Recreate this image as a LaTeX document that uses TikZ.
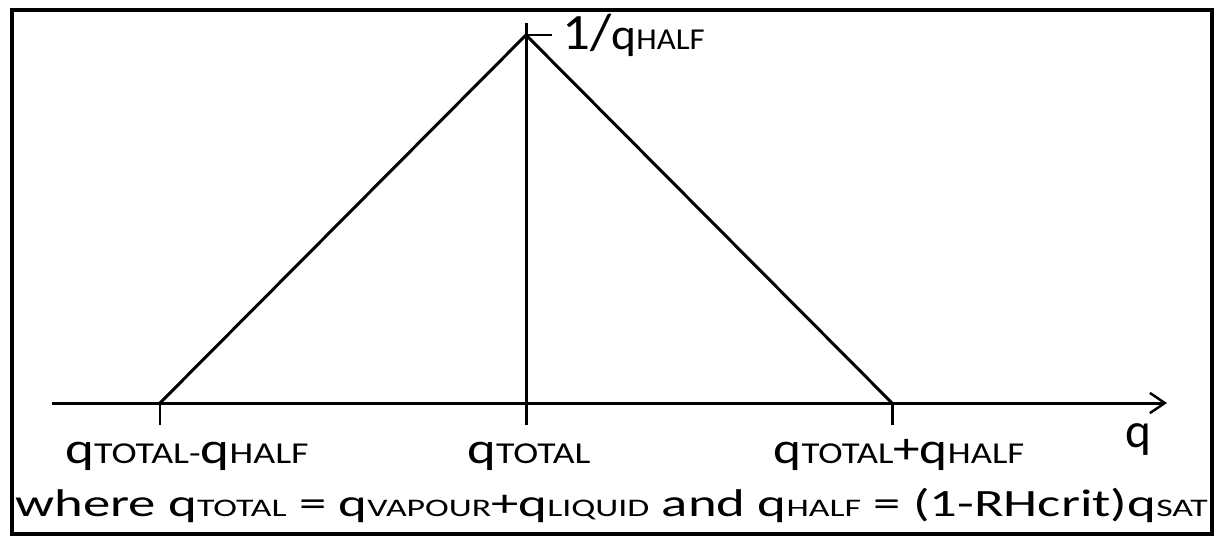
\documentclass[tikz,border=0pt]{standalone}
\usepackage{fontspec}
\setmainfont{Carlito}
\usepackage{relsize}
\usetikzlibrary{arrows.meta}
\newcommand\capsub[1]{{\relscale{0.68}#1}}
\newcommand\wide[2]{\scalebox{#1}[1]{#2}}
\tikzset{
  frame/.style={draw=black,line width=2.2pt},
  curve/.style={draw=black,line width=1.7pt},
  axis/.style={-{Straight Barb[length=8.5pt,width=11.5pt,line width=1.4pt]},draw=black,line width=1.7pt},
  lbl/.style={font=\fontsize{25}{25}\selectfont,inner sep=0pt},
  foot/.style={font=\fontsize{22}{22}\selectfont,inner sep=0pt}
}
\begin{document}
\begin{tikzpicture}[x=0.02cm,y=-0.02cm]
  \useasboundingbox (0,0) rectangle (1216,538);
  \draw[frame] (12,10) rectangle (1212,534);
  % points of the triangle
  \coordinate (left) at (160,403);
  \coordinate (apex) at (526,35);
  \coordinate (right) at (892,403);
  \coordinate (axstart) at (52,403);
  \coordinate (axend) at (1167,403);
  \draw[axis] (axstart) -- (axend);
  \draw[curve] (left) -- (apex) -- (right);
  \draw[curve] (526,23) -- (526,425);
  \draw[curve] (apex) -- ++(26,0);
  \foreach \x in {160,892}
    \draw[curve] (\x,403) -- (\x,425);
  \node[lbl,anchor=base west] (peak) at (562,49) {\wide{1.08}{{\fontsize{29}{29}\selectfont 1/}q\capsub{HALF}}};
  \node[lbl,anchor=base] (low) at (187,463) {\wide{1.25}{q\capsub{TOTAL-}q\capsub{HALF}}};
  \node[lbl,anchor=base] (mid) at (529,463) {\wide{1.24}{q\capsub{TOTAL}}};
  \node[lbl,anchor=base] (high) at (899,463) {\wide{1.21}{q\capsub{TOTAL}+q\capsub{HALF}}};
  \node[lbl,anchor=base,font=\fontsize{28}{28}\selectfont] (qname) at (1138,447) {q};
  \node[foot,anchor=base west] (where) at (15,516) {\wide{1.415}{where q\capsub{TOTAL} = q\capsub{VAPOUR}+q\capsub{LIQUID} and q\capsub{HALF} = (1-RHcrit)q\capsub{SAT}}};
\end{tikzpicture}
\end{document}
